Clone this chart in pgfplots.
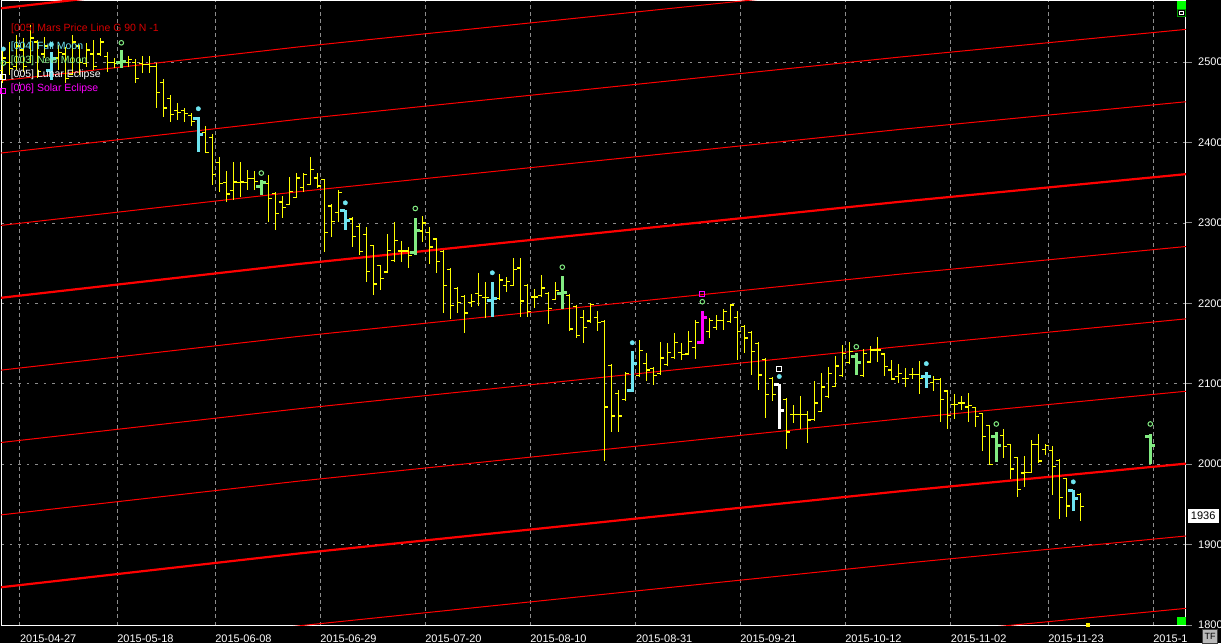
\documentclass[border=0pt]{standalone}
\usepackage{pgfplots}
\pgfplotsset{compat=1.18}
\usepackage{pgfplotstable}
\usepackage{fontspec}
\setmainfont{Liberation Sans}
\definecolor{cyanm}{RGB}{110,228,240}
\definecolor{greenm}{RGB}{130,235,130}
\definecolor{magm}{RGB}{255,0,255}
\definecolor{gridc}{RGB}{140,140,140}
\definecolor{marsred}{RGB}{255,0,0}
\definecolor{marstext}{RGB}{215,0,0}
\definecolor{barY}{RGB}{255,255,0}

\pgfdeclareplotmark{nothing}{}
\pgfdeclareplotmark{otick}{\pgfpathmoveto{\pgfqpoint{-3.5pt}{0pt}}\pgfpathlineto{\pgfqpoint{0pt}{0pt}}\pgfusepathqstroke}
\pgfdeclareplotmark{ctick}{\pgfpathmoveto{\pgfqpoint{0pt}{0pt}}\pgfpathlineto{\pgfqpoint{3.5pt}{0pt}}\pgfusepathqstroke}
\pgfdeclareplotmark{otickw}{\pgfpathmoveto{\pgfqpoint{-5pt}{0pt}}\pgfpathlineto{\pgfqpoint{0pt}{0pt}}\pgfusepathqstroke}
\pgfdeclareplotmark{ctickw}{\pgfpathmoveto{\pgfqpoint{0pt}{0pt}}\pgfpathlineto{\pgfqpoint{5pt}{0pt}}\pgfusepathqstroke}

\pgfplotsset{dotlegend/.style={legend image code/.code={\draw[mark repeat=1,##1] plot coordinates {(0pt,0pt)};}}}

% bar index, open, high, low, close
\pgfplotstableread{
m o h l c
0 2490 2515 2474 2505
1 2500 2525 2484 2492
2 2495 2534 2490 2520
3 2515 2530 2488 2495
4 2500 2546 2499 2530
5 2525 2528 2480 2488
6 2510 2531 2505 2520
8 2505 2521 2490 2512
9 2510 2519 2474 2480
10 2485 2534 2484 2525
11 2520 2521 2484 2500
12 2498 2524 2494 2515
13 2510 2528 2490 2495
14 2510 2530 2507 2525
15 2507 2513 2488 2500
16 2500 2505 2493 2498
18 2500 2507 2494 2503
19 2500 2504 2474 2480
20 2498 2507 2487 2497
21 2497 2507 2487 2495
22 2495 2499 2443 2462
23 2475 2479 2432 2443
24 2455 2459 2425 2435
25 2440 2449 2428 2437
26 2440 2443 2425 2436
27 2434 2437 2420 2426
29 2412 2420 2387 2388
30 2406 2410 2347 2360
31 2375 2382 2339 2349
32 2350 2365 2326 2336
33 2340 2376 2329 2351
34 2350 2376 2332 2351
35 2350 2366 2341 2355
36 2355 2365 2341 2352
38 2349 2360 2301 2330
39 2337 2339 2291 2312
40 2326 2334 2306 2319
41 2323 2357 2322 2339
42 2332 2362 2331 2356
43 2344 2362 2339 2360
44 2348 2382 2347 2366
45 2356 2362 2344 2346
46 2354 2355 2264 2288
47 2321 2324 2283 2302
48 2313 2341 2301 2338
50 2305 2308 2270 2283
51 2296 2299 2260 2264
52 2286 2295 2227 2240
53 2272 2273 2211 2224
54 2247 2248 2217 2231
55 2239 2286 2238 2266
56 2253 2301 2252 2278
57 2265 2278 2252 2265
58 2265 2270 2244 2260
60 2290 2309 2276 2300
61 2288 2295 2249 2270
62 2280 2281 2238 2252
63 2264 2266 2188 2222
64 2242 2244 2180 2197
65 2218 2220 2188 2201
66 2209 2211 2163 2188
67 2201 2212 2196 2202
68 2212 2238 2197 2210
69 2207 2226 2182 2207
71 2206 2237 2204 2229
72 2222 2233 2214 2227
73 2222 2257 2221 2242
74 2244 2257 2183 2203
75 2222 2224 2183 2190
76 2208 2218 2194 2208
77 2210 2235 2208 2219
78 2212 2214 2174 2194
79 2205 2227 2204 2216
81 2210 2212 2166 2168
82 2196 2198 2157 2160
83 2182 2192 2151 2170
84 2178 2201 2176 2199
85 2182 2191 2165 2176
86 2177 2179 2004 2071
87 2123 2125 2040 2060
88 2088 2092 2040 2060
89 2080 2115 2078 2113
91 2110 2155 2108 2141
92 2125 2138 2104 2117
93 2119 2121 2099 2110
94 2113 2152 2111 2132
95 2124 2151 2122 2139
96 2133 2163 2131 2151
97 2139 2151 2130 2136
98 2137 2166 2136 2153
99 2145 2179 2131 2176
101 2165 2182 2157 2179
102 2170 2186 2167 2179
103 2179 2193 2167 2190
104 2177 2199 2176 2198
105 2182 2191 2130 2165
106 2171 2173 2138 2157
107 2164 2166 2111 2140
108 2150 2152 2092 2111
109 2130 2132 2058 2087
110 2107 2109 2079 2087
112 2080 2082 2019 2040
113 2062 2074 2051 2062
114 2062 2085 2044 2062
115 2062 2066 2026 2055
116 2056 2103 2054 2076
117 2066 2113 2065 2096
118 2084 2121 2082 2113
119 2097 2135 2096 2122
120 2110 2148 2109 2138
121 2126 2152 2125 2140
123 2110 2143 2109 2138
124 2127 2147 2126 2142
125 2142 2158 2127 2142
126 2137 2138 2110 2121
127 2117 2130 2105 2106
128 2109 2125 2101 2113
129 2107 2119 2096 2107
130 2112 2120 2106 2112
131 2112 2128 2087 2107
133 2102 2110 2091 2105
134 2105 2107 2053 2080
135 2091 2092 2044 2061
136 2074 2087 2056 2074
137 2076 2085 2067 2076
138 2071 2089 2053 2073
139 2070 2071 2046 2059
140 2063 2064 2017 2034
141 2048 2049 1999 2000
143 2036 2044 2008 2022
144 2024 2025 1982 1994
145 2008 2009 1959 1969
146 1989 2010 1972 1990
147 1990 2030 1989 2024
148 2024 2038 2002 2004
149 2018 2025 2011 2023
150 2017 2023 1962 1997
151 2005 2006 1932 1959
152 1982 1983 1934 1948
154 1962 1964 1929 1947
}\bars

\pgfplotstableread{
m o h l c
7 2490 2512 2478 2505
28 2430 2432 2388 2410
49 2315 2316 2291 2303
70 2204 2227 2183 2206
90 2092 2141 2090 2125
132 2109 2115 2095 2109
153 1967 1968 1942 1957
}\fullbars

\pgfplotstableread{
m o h l c
17 2499 2515 2493 2501
37 2345 2354 2335 2350
59 2263 2306 2260 2291
80 2212 2234 2193 2213
122 2134 2138 2111 2126
142 2034 2040 2003 2023
164 2034 2037 2000 2023
}\newbars

\pgfplotstableread{
m o h l c
100 2151 2191 2150 2182
}\solarbars

\pgfplotstableread{
m o h l c
111 2099 2100 2044 2067
}\lunarbars

% event markers drawn above the bars
\pgfplotstableread{
m y
7 2522
28 2442
49 2325
70 2238
90 2151
111 2109
132 2125
153 1978
}\fullmarks

\pgfplotstableread{
m y
17 2524
37 2362
59 2318
80 2245
100 2202
122 2146
142 2050
164 2050
}\newmarks

\pgfplotstableread{
m y
111 2118
}\lunarmarks

\pgfplotstableread{
m y
100 2212
}\solarmarks

\newcommand{\ohlc}[5]{%
  \addplot[#2, line width=#3, only marks, mark=nothing, forget plot,
    error bars/.cd, y dir=both, y explicit, error mark=none,
    error bar style={#2, line width=#3, solid}]
    table[x=m, y expr={(\thisrow{h}+\thisrow{l})/2}, y error expr={(\thisrow{h}-\thisrow{l})/2}] {#1};
  \addplot[#2, line width=#3, only marks, mark=#4, forget plot] table[x=m, y=o] {#1};
  \addplot[#2, line width=#3, only marks, mark=#5, forget plot] table[x=m, y=c] {#1};
}

\begin{document}
\begin{tikzpicture}
\fill[black] (0,0) rectangle (1221pt,643pt);
\begin{axis}[
  at={(1pt,18pt)}, anchor=south west,
  scale only axis, width=1185pt, height=624pt,
  xmin=-0.19, xmax=169.1, ymin=1800, ymax=2576,
  axis background/.style={fill=black},
  axis line style={white, line width=1pt},
  xtick={2.5,16.4,30.4,45.4,60.4,75.4,90.5,105.4,120.4,135.5,149.4,164.4},
  xticklabels={2015-04-27,2015-05-18,2015-06-08,2015-06-29,2015-07-20,2015-08-10,2015-08-31,2015-09-21,2015-10-12,2015-11-02,2015-11-23,2015-1},
  ytick={1800,1900,...,2500},
  yticklabel pos=right, ytick pos=right, xtick pos=bottom,
  xmajorgrids, ymajorgrids,
  x grid style={gridc, dash pattern=on 3.5pt off 3.5pt, line width=0.8pt},
  y grid style={gridc, dash pattern=on 2.5pt off 6pt, line width=0.8pt},
  xtick style={draw=none},
  ytick style={gridc, line width=1pt},
  tick align=outside, major tick length=6pt,
  tick label style={font=\fontsize{11}{13}\selectfont, text=white},
  xticklabel style={anchor=north west, inner sep=0pt, yshift=-4pt},
  yticklabel style={anchor=west, inner sep=0pt, xshift=6pt},
  /pgf/number format/assume math mode=true,
  /pgf/number format/1000 sep={},
  scaled y ticks=false,
  legend style={at={(axis description cs:0,1)}, anchor=north west, yshift=-41pt,
    draw=none, fill=none, inner sep=0pt, outer sep=0pt, row sep=0pt, column sep=5pt,
    font=\fontsize{10.5}{12}\selectfont,
    nodes={inner sep=0pt, text height=8pt, text depth=6pt}},
  legend cell align=left,
]
% Mars price lines (offsets of 90)
\addplot[marsred, line width=2.2pt, forget plot] coordinates {(-0.33,2566.8)(42.53,2609.1)(85.39,2647.7)(128.24,2686.3)(169.1,2720.7)};
\addplot[marsred, line width=1pt, forget plot] coordinates {(-0.33,2476.8)(42.53,2519.1)(85.39,2557.7)(128.24,2596.3)(169.1,2630.7)};
\addplot[marsred, line width=1pt, forget plot] coordinates {(-0.33,2386.8)(42.53,2429.1)(85.39,2467.7)(128.24,2506.3)(169.1,2540.7)};
\addplot[marsred, line width=1pt, forget plot] coordinates {(-0.33,2296.8)(42.53,2339.1)(85.39,2377.7)(128.24,2416.3)(169.1,2450.7)};
\addplot[marsred, line width=2.2pt, forget plot] coordinates {(-0.33,2206.8)(42.53,2249.1)(85.39,2287.7)(128.24,2326.3)(169.1,2360.7)};
\addplot[marsred, line width=1pt, forget plot] coordinates {(-0.33,2116.8)(42.53,2159.1)(85.39,2197.7)(128.24,2236.3)(169.1,2270.7)};
\addplot[marsred, line width=1pt, forget plot] coordinates {(-0.33,2026.8)(42.53,2069.1)(85.39,2107.7)(128.24,2146.3)(169.1,2180.7)};
\addplot[marsred, line width=1pt, forget plot] coordinates {(-0.33,1936.8)(42.53,1979.1)(85.39,2017.7)(128.24,2056.3)(169.1,2090.7)};
\addplot[marsred, line width=2.2pt, forget plot] coordinates {(-0.33,1846.8)(42.53,1889.1)(85.39,1927.7)(128.24,1966.3)(169.1,2000.7)};
\addplot[marsred, line width=1pt, forget plot] coordinates {(-0.33,1756.8)(42.53,1799.1)(85.39,1837.7)(128.24,1876.3)(169.1,1910.7)};
\addplot[marsred, line width=1pt, forget plot] coordinates {(-0.33,1666.8)(42.53,1709.1)(85.39,1747.7)(128.24,1786.3)(169.1,1820.7)};

% price bars
\ohlc{\bars}{barY}{1.2pt}{otick}{ctick}
\ohlc{\fullbars}{cyanm}{3pt}{otickw}{ctickw}
\ohlc{\newbars}{greenm}{3pt}{otickw}{ctickw}
\ohlc{\solarbars}{magm}{3pt}{otickw}{ctickw}
\ohlc{\lunarbars}{white}{3pt}{otickw}{ctickw}

% event markers
\addplot[only marks, mark=*, mark size=2.2pt, cyanm, fill=cyanm, dotlegend]
  table[x=m,y=y] {\fullmarks};
\addlegendentry{\textcolor{cyanm}{[004] Full Moon}}
\addplot[only marks, mark=o, mark size=2.3pt, line width=1pt, greenm, dotlegend]
  table[x=m,y=y] {\newmarks};
\addlegendentry{\textcolor{greenm}{[003] New Moon}}
\addplot[only marks, mark=square, mark size=2.4pt, line width=1.1pt, white, dotlegend]
  table[x=m,y=y] {\lunarmarks};
\addlegendentry{\textcolor{white}{[005] Lunar Eclipse}}
\addplot[only marks, mark=square, mark size=2.4pt, line width=1.1pt, magm, dotlegend]
  table[x=m,y=y] {\solarmarks};
\addlegendentry{\textcolor{magm}{[006] Solar Eclipse}}

\coordinate (lastp) at (axis cs:169.1,1936);
\end{axis}
% title line of the legend
\node[anchor=west, inner sep=0pt, text=marstext, font=\fontsize{10.5}{12}\selectfont] at (11pt,614pt) {[005] Mars Price Line G 90 N -1};
% last price box
\node[anchor=west, fill=white, text=black, inner sep=0pt, minimum width=31pt, minimum height=14pt,
  font=\fontsize{11}{13}\selectfont, xshift=1.5pt] at (lastp) {1936};
% chart UI elements
\fill[green] (1177pt,634pt) rectangle (1186pt,641.5pt);
\draw[green!60!black, line width=0.8pt, fill=black] (1177.8pt,626.5pt) rectangle (1185.2pt,633.5pt);
\draw[white, line width=1.4pt] (1179.6pt,628.3pt) rectangle (1183.4pt,631.7pt);
\fill[green] (1177pt,18pt) rectangle (1186pt,26.5pt);
\fill[yellow] (1086pt,16.5pt) rectangle (1089.5pt,20.5pt);
\node[draw=gray!50!black, fill=gray!55, text=black, inner sep=0pt, minimum width=15pt, minimum height=14pt,
  font=\fontsize{9}{10}\selectfont] at (1210pt,7pt) {TF};
\pgfresetboundingbox
\useasboundingbox (0,0) rectangle (1221pt,643pt);
\end{tikzpicture}
\end{document}
